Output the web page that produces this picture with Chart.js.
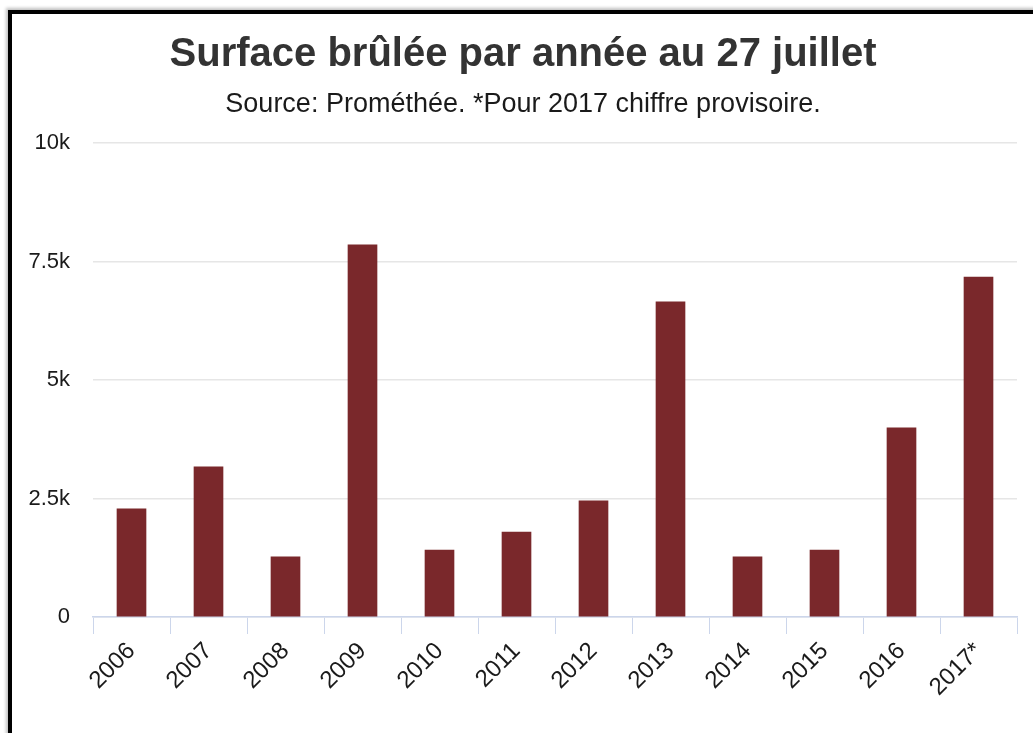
<!DOCTYPE html>
<html>
<head>
<meta charset="utf-8">
<script src="https://cdn.jsdelivr.net/npm/chart.js@4/dist/chart.umd.min.js"></script>
<style>
    body { margin: 0; background: #fff; overflow: hidden; }
    .frame {
        position: absolute; left: 8px; top: 10px; width: 1100px; height: 800px;
        border-left: 4px solid #000; border-top: 4px solid #000;
        box-shadow: -2px -2px 3px rgba(0, 0, 0, 0.25);
    }
    #chart { position: absolute; left: 0; top: 0; }
</style>
</head>
<body>
<div class="frame"></div>
<canvas id="chart" width="1033" height="733"></canvas>
<script>
const years = ['2006', '2007', '2008', '2009', '2010', '2011', '2012', '2013', '2014', '2015', '2016', '2017*'];
const surface = [2280, 3170, 1270, 7850, 1410, 1790, 2450, 6650, 1270, 1410, 3990, 7170];
const yTickValues = [0, 2500, 5000, 7500, 10000];
const yTickLabels = ['0', '2.5k', '5k', '7.5k', '10k'];

const fontFamily = '"Liberation Sans", Arial, sans-serif';

document.addEventListener('DOMContentLoaded', function () {
    const ctx = document.getElementById('chart').getContext('2d');

    new Chart(ctx, {
        type: 'bar',
        data: {
            labels: years,
            datasets: [{
                label: 'Surface brûlée',
                data: surface,
                backgroundColor: '#7a282b',
                barThickness: 29
            }]
        },
        options: {
            responsive: false,
            animation: false,
            layout: { padding: { left: 29, right: 16, top: 0, bottom: 0 } },
            plugins: {
                legend: { display: false },
                tooltip: { enabled: false },
                title: {
                    display: true,
                    text: 'Surface brûlée par année au 27 juillet',
                    color: '#333333',
                    font: { family: fontFamily, size: 40, weight: 'bold', lineHeight: 1.2 },
                    padding: { top: 31, bottom: 4 }
                },
                subtitle: {
                    display: true,
                    text: 'Source: Prométhée. *Pour 2017 chiffre provisoire.',
                    color: '#1a1a1a',
                    font: { family: fontFamily, size: 27, lineHeight: 1.2 },
                    padding: { top: 5, bottom: 22.6 }
                }
            },
            scales: {
                x: {
                    grid: {
                        display: true,
                        offset: true,
                        drawOnChartArea: false,
                        drawTicks: true,
                        tickLength: 17,
                        color: '#ccd6eb'
                    },
                    border: { display: true, color: '#ccd6eb', width: 1.5 },
                    ticks: {
                        color: '#1a1a1a',
                        font: { family: fontFamily, size: 24 },
                        minRotation: 45,
                        maxRotation: 45,
                        padding: 3
                    },
                    afterFit: function (scale) { scale.height = 116; }
                },
                y: {
                    min: 0,
                    max: 10000,
                    afterBuildTicks: function (scale) {
                        scale.ticks = yTickValues.map(v => ({ value: v }));
                    },
                    grid: { color: '#e6e6e6', lineWidth: 1.5, drawTicks: false },
                    border: { display: false },
                    ticks: {
                        color: '#1a1a1a',
                        font: { family: fontFamily, size: 22 },
                        padding: 23,
                        callback: function (value) {
                            const i = yTickValues.indexOf(value);
                            return i >= 0 ? yTickLabels[i] : '';
                        }
                    },
                    afterFit: function (scale) { scale.width = 64; }
                }
            }
        }
    });
});
</script>
</body>
</html>
